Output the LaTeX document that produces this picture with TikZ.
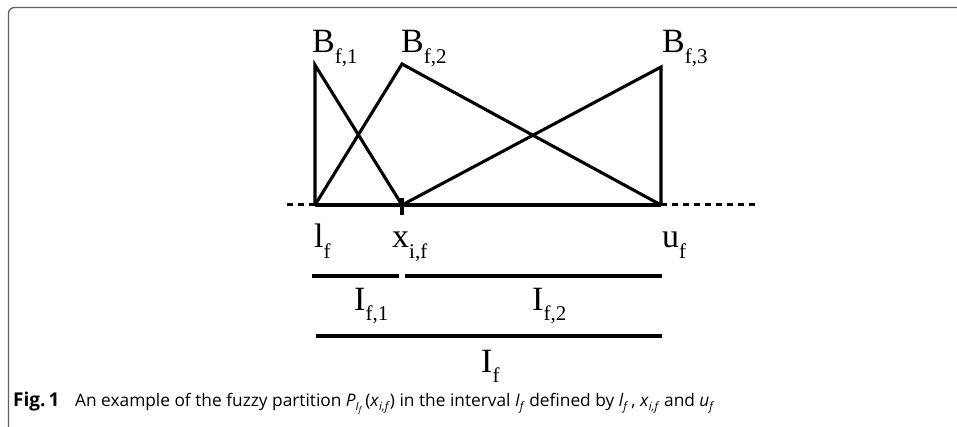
\documentclass[tikz,border=0pt]{standalone}
\usepackage{fontspec}
\setmainfont{Liberation Serif}
\newfontfamily\capfont{Open Sans}
\newcommand\lsub[1]{\raisebox{-0.3em}{\fontsize{21}{21}\selectfont #1}}
\newcommand\csub[1]{\raisebox{-0.25em}{\fontsize{11.5}{11.5}\selectfont #1}}
\begin{document}
\begin{tikzpicture}[x=1pt,y=-1pt,
  curve/.style={line width=3.1pt, line join=miter},
  dotline/.style={line width=3pt, dash pattern=on 6pt off 5pt},
  lbl/.style={inner sep=0pt, anchor=base west, font=\fontsize{34}{34}\selectfont},
  frame/.style={draw=black!62, line width=1.3pt, rounded corners=6pt},
  caption/.style={inner sep=0pt, anchor=base west, font=\capfont\fontsize{17.3}{17.3}\selectfont}]
\useasboundingbox (0,0) rectangle (957,427);
\draw[frame] (958,7.5) -- (8.5,7.5) -- (8.5,428);
% points
\coordinate (l) at (315,205);
\coordinate (x) at (402,205);
\coordinate (u) at (661,205);
\coordinate (p1) at (315,65);
\coordinate (p2) at (402,64);
\coordinate (p3) at (661,67);
\coordinate (dl) at (287,205);
\coordinate (dr) at (755,205);
\coordinate (tt) at (402,198);
\coordinate (tb) at (402,215);
% axis
\draw[dotline] (dl) -- (l);
\draw[dotline] (u) -- (dr);
\draw[curve] (l) -- (u);
\draw[curve] (tt) -- (tb);
% membership functions
\draw[curve] (l) -- (p1) -- (x);
\draw[curve] (l) -- (p2) -- (u);
\draw[curve] (x) -- (p3) -- (u);
% labels
\node[lbl] (b1) at (312,53) {B\lsub{f,1}};
\node[lbl] (b2) at (401,53) {B\lsub{f,2}};
\node[lbl] (b3) at (662,53) {B\lsub{f,3}};
\node[lbl] (ll) at (314,248) {l\lsub{f}};
\node[lbl] (xl) at (392,248) {x\lsub{i,f}};
\node[lbl] (ul) at (662,248) {u\lsub{f}};
% intervals
\coordinate (i1a) at (312,276);
\coordinate (i1b) at (399,276);
\coordinate (i2a) at (405,276);
\coordinate (i2b) at (662,276);
\coordinate (ia) at (316,336);
\coordinate (ib) at (662,336);
\draw[curve] (i1a) -- (i1b);
\draw[curve] (i2a) -- (i2b);
\draw[curve] (ia) -- (ib);
\node[lbl] (I1) at (354,310) {I\lsub{f,1}};
\node[lbl] (I2) at (532,310) {I\lsub{f,2}};
\node[lbl] (I) at (481,372) {I\lsub{f}};
% caption
\node[caption] (cap) at (13,406) {{\fontsize{19}{19}\selectfont\textbf{Fig.\,1}}\hspace{0.9em}An example of the fuzzy partition \textit{P}\csub{\textit{I}\raisebox{-0.2em}{\fontsize{8}{8}\selectfont\textit{f}}}\,(\textit{x}\csub{\textit{i,f}}) in the interval \textit{I}\csub{\textit{f}} defined by \textit{l}\csub{\textit{f}}\,, \textit{x}\csub{\textit{i,f}} and \textit{u}\csub{\textit{f}}};
\end{tikzpicture}
\end{document}
